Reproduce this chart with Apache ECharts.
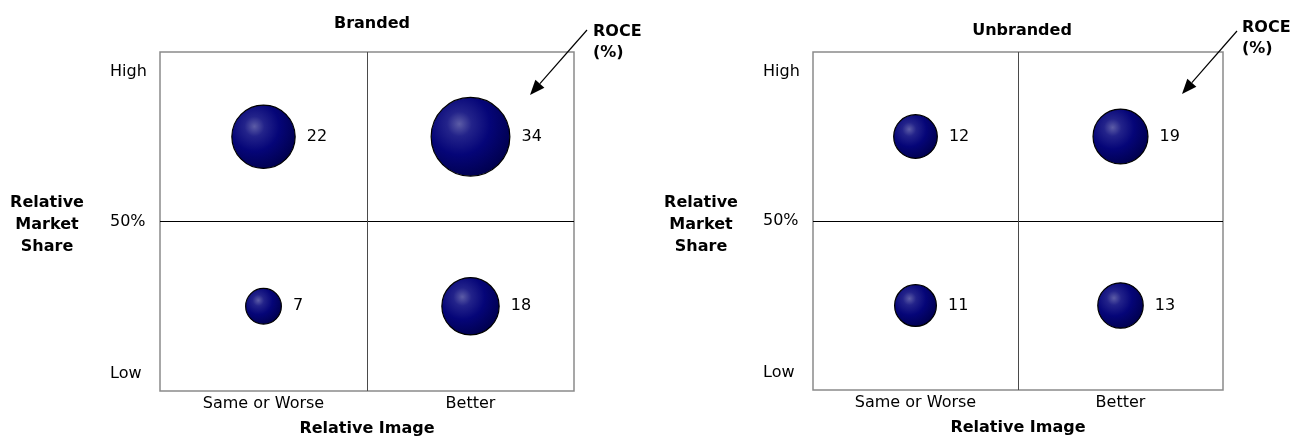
<!DOCTYPE html>
<html>
<head>
<meta charset="utf-8">
<script src="https://cdn.jsdelivr.net/npm/echarts@6/dist/echarts.min.js"></script>
<style>
  html, body { margin: 0; padding: 0; background: #fff; }
  #chart { width: 1302px; height: 443px; }
</style>
</head>
<body>
<div id="chart"></div>
<script>
// Relative image categories (x) and market share bands (y, % position)
const imageCategories = ['Same or Worse', 'Better'];
const highShareLevel = 75;
const lowShareLevel = 25;
const shareTickValues = [5, 50, 94];
const shareTickLabels = ['Low', '50%', 'High'];

// ROCE (%) per quadrant, ordered as imageCategories
const brandedHighShare = [22, 34];
const brandedLowShare = [7, 18];
const unbrandedHighShare = [12, 19];
const unbrandedLowShare = [11, 13];

const FONT = 'DejaVu Sans';

function quadrantData(high, low) {
  const out = [];
  high.forEach((v, i) => out.push([i, highShareLevel, v]));
  low.forEach((v, i) => out.push([i, lowShareLevel, v]));
  return out;
}

// Shaded navy ball with a soft highlight towards the upper left
const ballColor = new echarts.graphic.RadialGradient(0.36, 0.34, 0.7, [
  { offset: 0, color: '#5c5ca6' },
  { offset: 0.22, color: '#23238a' },
  { offset: 0.55, color: '#050578' },
  { offset: 1, color: '#00004e' }
]);

function bubbleSeries(idx, data, scale) {
  return {
    type: 'scatter',
    xAxisIndex: idx,
    yAxisIndex: idx,
    data: data,
    symbol: 'circle',
    symbolSize: (val) => scale * Math.sqrt(val[2]),
    itemStyle: { color: ballColor, borderColor: '#000', borderWidth: 1.2, opacity: 1 },
    label: {
      show: true,
      position: 'right',
      distance: 11,
      formatter: (p) => String(p.value[2]),
      fontFamily: FONT,
      fontSize: 16,
      color: '#000'
    },
    emphasis: { disabled: true },
    silent: true,
    z: 5
  };
}

function xAxisFor(idx) {
  return {
    type: 'category',
    gridIndex: idx,
    data: imageCategories,
    boundaryGap: true,
    axisLine: { show: false },
    axisTick: { show: false },
    axisLabel: { margin: 5, fontFamily: FONT, fontSize: 16, color: '#000' },
    splitLine: { show: true, showMinLine: false, showMaxLine: false, lineStyle: { color: '#4a4a4a', width: 1 } },
    name: 'Relative Image',
    nameLocation: 'middle',
    nameGap: 30,
    nameTextStyle: { fontFamily: FONT, fontSize: 16, fontWeight: 'bold', color: '#000' }
  };
}

function yAxisFor(idx) {
  return {
    type: 'value',
    gridIndex: idx,
    min: 0,
    max: 100,
    interval: 50,
    axisLine: { show: false },
    axisTick: { show: false },
    axisLabel: {
      customValues: shareTickValues,
      formatter: (v) => shareTickLabels[shareTickValues.indexOf(v)] ?? '',
      align: 'left',
      margin: 50,
      fontFamily: FONT,
      fontSize: 16,
      color: '#000'
    },
    splitLine: { show: true, showMinLine: false, showMaxLine: false, lineStyle: { color: '#000', width: 1 } }
  };
}

// Arrow from the ROCE note towards the top-right bubble
function arrow(x1, y1, x2, y2) {
  const dx = x2 - x1, dy = y2 - y1;
  const len = Math.hypot(dx, dy);
  const ux = dx / len, uy = dy / len;
  const headLen = 15, half = 6;
  const bx = x2 - ux * headLen, by = y2 - uy * headLen;
  return [
    { type: 'line', shape: { x1, y1, x2: bx, y2: by }, style: { stroke: '#000', lineWidth: 1.2 } },
    { type: 'polygon', shape: { points: [[x2, y2], [bx - uy * half, by + ux * half], [bx + uy * half, by - ux * half]] }, style: { fill: '#000' } }
  ];
}

function roceNote(x, y) {
  return {
    type: 'text',
    left: x,
    top: y,
    style: { text: 'ROCE\n(%)', fontFamily: FONT, fontSize: 16, fontWeight: 'bold', fill: '#000', lineHeight: 21, align: 'left' }
  };
}

function shareName(x) {
  return {
    type: 'text',
    x: x,
    y: 225,
    style: { text: 'Relative\nMarket\nShare', fontFamily: FONT, fontSize: 16, fontWeight: 'bold', fill: '#000', lineHeight: 22, align: 'center', verticalAlign: 'middle' }
  };
}

const chart = echarts.init(document.getElementById('chart'), null, { renderer: 'canvas' });

chart.setOption({
  animation: false,
  backgroundColor: '#fff',
  title: [
    { text: 'Branded', left: 367, top: 11, textAlign: 'center', textStyle: { fontFamily: FONT, fontSize: 16, fontWeight: 'bold', color: '#000' } },
    { text: 'Unbranded', left: 1017, top: 18, textAlign: 'center', textStyle: { fontFamily: FONT, fontSize: 16, fontWeight: 'bold', color: '#000' } }
  ],
  grid: [
    { left: 160, top: 52, width: 414, height: 339, show: true, borderColor: '#8a8a8a', borderWidth: 1.5, backgroundColor: 'transparent' },
    { left: 813, top: 52, width: 410, height: 338, show: true, borderColor: '#8a8a8a', borderWidth: 1.5, backgroundColor: 'transparent' }
  ],
  xAxis: [xAxisFor(0), xAxisFor(1)],
  yAxis: [yAxisFor(0), yAxisFor(1)],
  series: [
    bubbleSeries(0, quadrantData(brandedHighShare, brandedLowShare), 13.5),
    bubbleSeries(1, quadrantData(unbrandedHighShare, unbrandedLowShare), 12.6)
  ],
  graphic: [
    shareName(47),
    shareName(701),
    roceNote(593, 21),
    roceNote(1242, 17),
    ...arrow(587, 30, 530, 95),
    ...arrow(1237, 31, 1182, 94)
  ]
});
</script>
</body>
</html>
